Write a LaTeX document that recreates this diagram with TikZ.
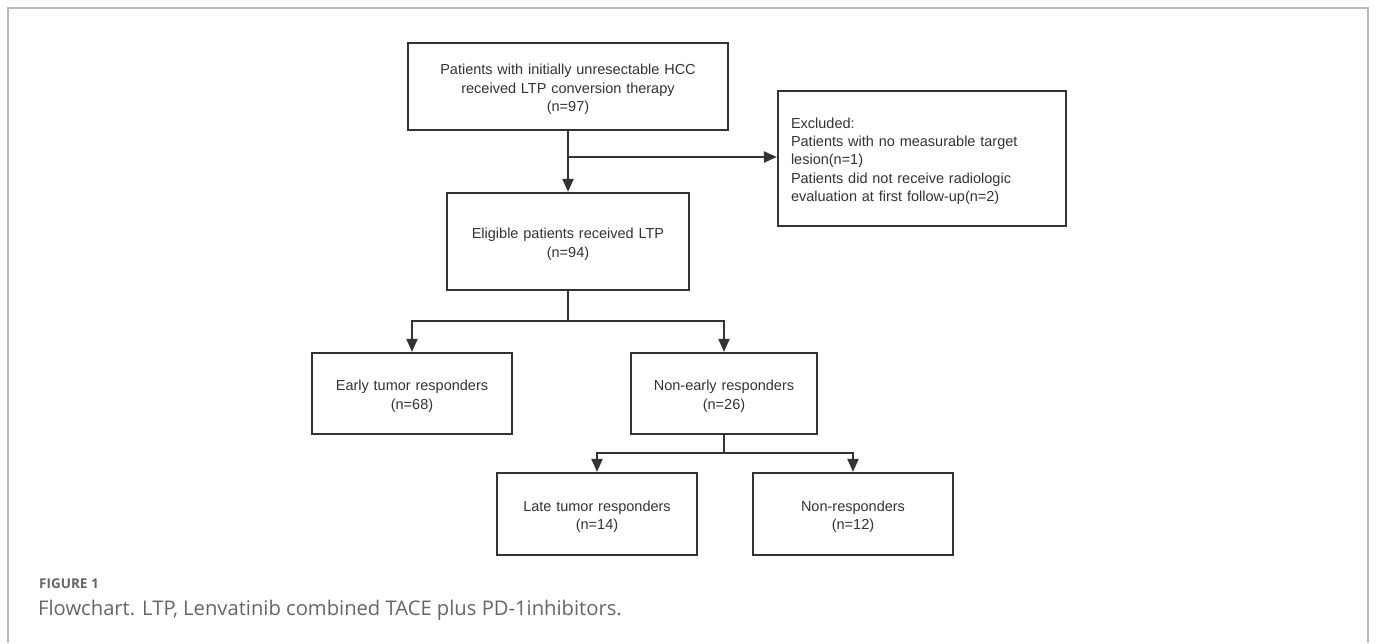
\documentclass[tikz,border=0pt]{standalone}
\usepackage{fontspec}
\setmainfont{Liberation Sans}
\newfontfamily\capfont{Open Sans}
\usetikzlibrary{arrows.meta,positioning,calc}
\definecolor{ink}{HTML}{333333}
\definecolor{txt}{HTML}{333333}
\definecolor{framec}{HTML}{B8B8B8}
\definecolor{capc}{HTML}{666666}
\tikzset{
  boxst/.style={draw=ink, line width=2.2pt, inner sep=0pt, align=center, text=txt,
    font=\fontsize{14.5}{18.2}\selectfont, execute at begin node={\rule{0pt}{16pt}}},
  conn/.style={draw=ink, line width=2pt},
  arr/.style={conn, -{Triangle[length=13pt,width=11pt]}},
}
\begin{document}
\begin{tikzpicture}[x=1pt,y=-1pt]
\useasboundingbox (0,0) rectangle (1376,643);
\fill[white] (0,0) rectangle (1376,643);
% frame
\draw[framec, line width=1.5pt] (8,643) -- (8,8) -- (1368,8) -- (1368,643);
% nodes
\node[boxst, minimum width=320pt, minimum height=87pt, text width=310pt] (top) at (568,86.5)
  {Patients with initially unresectable HCC\\received LTP conversion therapy\\(n=97)};
\node[boxst, minimum width=288pt, minimum height=135pt, align=left, text width=262pt, inner xsep=13pt] (excl) at (922,158.5)
  {Excluded:\\Patients with no measurable target\\lesion(n=1)\\Patients did not receive radiologic\\evaluation at first follow-up(n=2)};
\node[boxst, minimum width=242pt, minimum height=97pt, text width=232pt] (elig) at (568,241.5)
  {Eligible patients received LTP\\(n=94)};
\node[boxst, minimum width=200pt, minimum height=81pt, text width=190pt] (early) at (412,393.5)
  {Early tumor responders\\(n=68)};
\node[boxst, minimum width=186pt, minimum height=81pt, text width=176pt] (nonearly) at (724,393.5)
  {Non-early responders\\(n=26)};
\node[boxst, minimum width=200pt, minimum height=82pt, text width=190pt] (late) at (597,514)
  {Late tumor responders\\(n=14)};
\node[boxst, minimum width=200pt, minimum height=82pt, text width=190pt] (nonresp) at (853,514)
  {Non-responders\\(n=12)};
% connectors
\draw[arr] (top) -- (elig);
\coordinate (j1) at (568,157);
\draw[arr] (j1) -- (j1 -| excl.west);
\coordinate (j2) at (568,321);
\draw[conn] (elig.south) -- (j2);
\draw[arr] (j2) -| (early.north);
\draw[arr] (j2) -| (nonearly.north);
\coordinate (j3) at (724,453);
\draw[conn] (nonearly.south) -- (j3);
\draw[arr] (j3) -| (late.north);
\draw[arr] (j3) -| (nonresp.north);
% caption
\node[anchor=west, inner sep=0pt, text=capc, font=\capfont\bfseries\fontsize{13.5}{15}\selectfont] (figlab) at (39,584) {FIGURE 1};
\node[anchor=west, inner sep=0pt, text=capc, font=\capfont\fontsize{20.2}{22}\selectfont] (figcap) at (38,610) {Flowchart. LTP, Lenvatinib combined TACE plus PD-1inhibitors.};
\end{tikzpicture}
\end{document}
